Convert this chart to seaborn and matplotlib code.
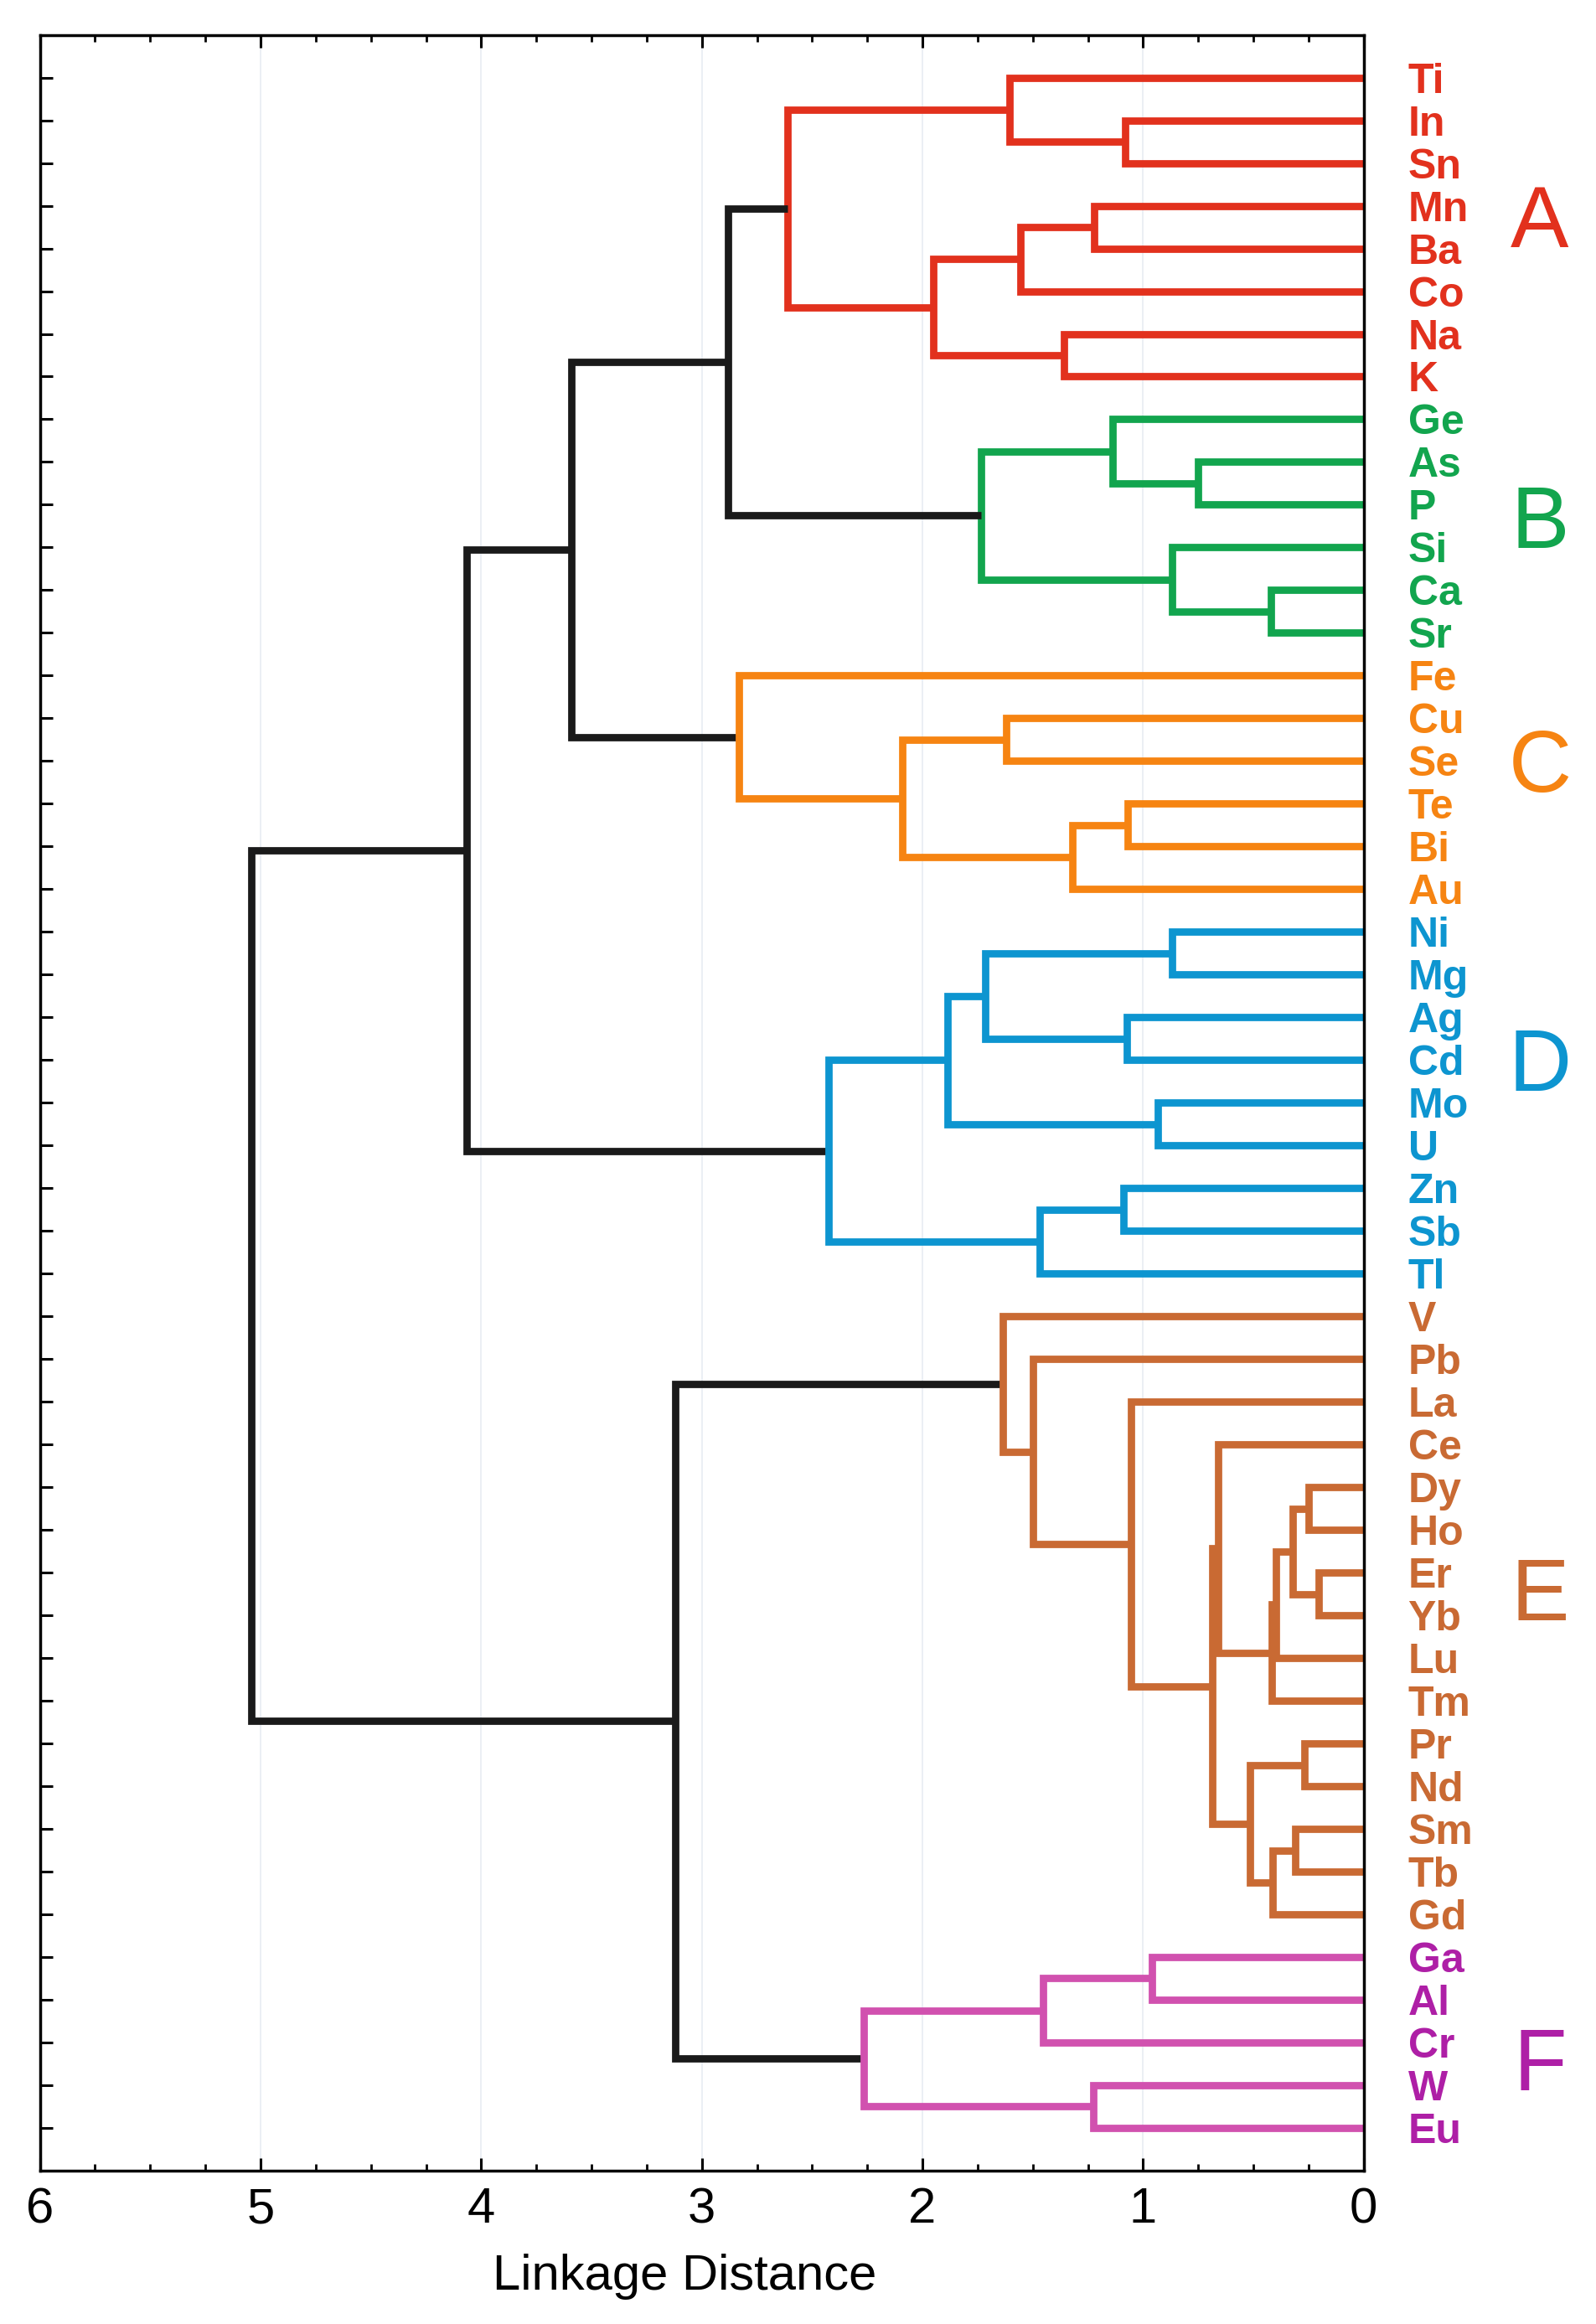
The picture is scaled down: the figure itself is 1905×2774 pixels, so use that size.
import matplotlib.pyplot as plt
import pandas as pd
import seaborn as sns
from matplotlib.ticker import MultipleLocator

# leaf order, top to bottom, and the cluster each leaf belongs to
leaves = ["Ti", "In", "Sn", "Mn", "Ba", "Co", "Na", "K",
          "Ge", "As", "P", "Si", "Ca", "Sr",
          "Fe", "Cu", "Se", "Te", "Bi", "Au",
          "Ni", "Mg", "Ag", "Cd", "Mo", "U", "Zn", "Sb", "Tl",
          "V", "Pb", "La", "Ce", "Dy", "Ho", "Er", "Yb", "Lu", "Tm",
          "Pr", "Nd", "Sm", "Tb", "Gd",
          "Ga", "Al", "Cr", "W", "Eu"]
groups = ["A"] * 8 + ["B"] * 6 + ["C"] * 6 + ["D"] * 9 + ["E"] * 15 + ["F"] * 5

# merges: node a + node b at linkage distance; "#k" means the k-th merge
link_a = ["In", "Ti", "Mn", "#2", "Na", "#3", "#1",
          "As", "Ge", "Ca", "Si", "#8", "#6",
          "Cu", "Te", "#14", "#13", "Fe", "#12",
          "Ni", "Ag", "#19", "Mo", "#21", "Zn", "#24", "#23", "#18",
          "Dy", "Er", "#28", "#30", "#31", "Ce", "Pr", "Sm", "#35", "#34",
          "#33", "La", "Pb", "V",
          "Ga", "#42", "W", "#43", "#41", "#27"]
link_b = ["Sn", "#0", "Ba", "Co", "K", "#4", "#5",
          "P", "#7", "Sr", "#9", "#10", "#11",
          "Se", "Bi", "Au", "#15", "#16", "#17",
          "Mg", "Cd", "#20", "U", "#22", "Sb", "Tl", "#25", "#26",
          "Ho", "Yb", "#29", "Lu", "Tm", "#32", "Nd", "Tb", "Gd", "#36",
          "#37", "#38", "#39", "#40",
          "Al", "Cr", "Eu", "#44", "#45", "#46"]
link_dist = [1.08, 1.605, 1.22, 1.555, 1.36, 1.95, 2.61,
             0.75, 1.14, 0.42, 0.867, 1.735, 2.88,
             1.62, 1.07, 1.32, 2.09, 2.83, 3.59,
             0.867, 1.074, 1.716, 0.933, 1.886, 1.089, 1.47, 2.424, 4.065,
             0.25, 0.204, 0.322, 0.397, 0.416, 0.66, 0.268, 0.311, 0.412, 0.514,
             0.686, 1.055, 1.497, 1.636,
             0.959, 1.452, 1.225, 2.267, 3.12, 5.04]

cluster_names = ["A", "B", "C", "D", "E", "F"]
cluster_pos = [3.45, 10.5, 16.2, 23.2, 35.6, 46.6]

line_colors = {"A": "#E2311D", "B": "#12A54E", "C": "#F68412", "D": "#0D95D0",
               "E": "#C96A33", "F": "#D151AF", "link": "#1A1A1A"}
text_colors = {"A": "#E2311D", "B": "#12A54E", "C": "#F68412", "D": "#0D95D0",
               "E": "#C96A33", "F": "#AE1FA6"}

# build the U-shaped link paths, scipy style (node y = mean of children)
pos = {name: (0.0, i, g) for i, (name, g) in enumerate(zip(leaves, groups))}
rows = []
for k, (a, b, d) in enumerate(zip(link_a, link_b, link_dist)):
    xa, ya, ga = pos[a]
    xb, yb, gb = pos[b]
    g = ga if ga == gb else None
    pos[f"#{k}"] = (d, (ya + yb) / 2, g)
    for x, y in [(xa, ya), (d, ya), (d, yb), (xb, yb)]:
        rows.append({"link": k, "x": x, "y": y, "cluster": g if g else "link"})
df = pd.DataFrame(rows)

sns.set_style("ticks")
plt.rcParams["font.family"] = ["Liberation Sans", "DejaVu Sans"]

fig, ax = plt.subplots(figsize=(19.06, 27.74), dpi=100)
fig.subplots_adjust(left=0.025, right=0.854, top=0.985, bottom=0.066)

sns.lineplot(data=df, x="x", y="y", units="link", hue="cluster",
             palette=line_colors, estimator=None, sort=False, lw=6.3,
             legend=False, ax=ax, solid_joinstyle="miter", solid_capstyle="butt")

ax.set_xlim(6, 0)
ax.set_ylim(len(leaves), -1)
ax.xaxis.set_major_locator(MultipleLocator(1))
ax.xaxis.set_minor_locator(MultipleLocator(0.25))
ax.grid(axis="x", which="major", color="#E8ECF2", lw=1.2)
ax.set_axisbelow(True)

ax.set_yticks(range(len(leaves)), labels=leaves)
ax.tick_params(axis="y", which="major", direction="in", left=True, right=False,
               labelleft=False, labelright=True, length=11, width=2.2,
               pad=38, labelsize=36, color="black")
for tick, g in zip(ax.yaxis.get_major_ticks(), groups):
    tick.label2.set_color(text_colors[g])
    tick.label2.set_fontweight("bold")

ax.tick_params(axis="x", which="both", direction="in", top=True, bottom=True,
               labelsize=43, pad=14, color="black", labelcolor="black")
ax.tick_params(axis="x", which="major", length=11, width=2.2)
ax.tick_params(axis="x", which="minor", length=5.5, width=2)

for side in ["left", "right", "top", "bottom"]:
    ax.spines[side].set_visible(True)
    ax.spines[side].set_linewidth(2.5)
    ax.spines[side].set_color("black")

for name, y in zip(cluster_names, cluster_pos):
    ax.text(1.133, y, name, transform=ax.get_yaxis_transform(), ha="center",
            va="center", fontsize=75, color=text_colors[name], clip_on=False)

ax.set_xlabel("Linkage Distance", fontsize=43, labelpad=18, color="black")
ax.xaxis.label.set_x(0.487)
ax.set_ylabel("")

fig.savefig("out.png", dpi=100)
